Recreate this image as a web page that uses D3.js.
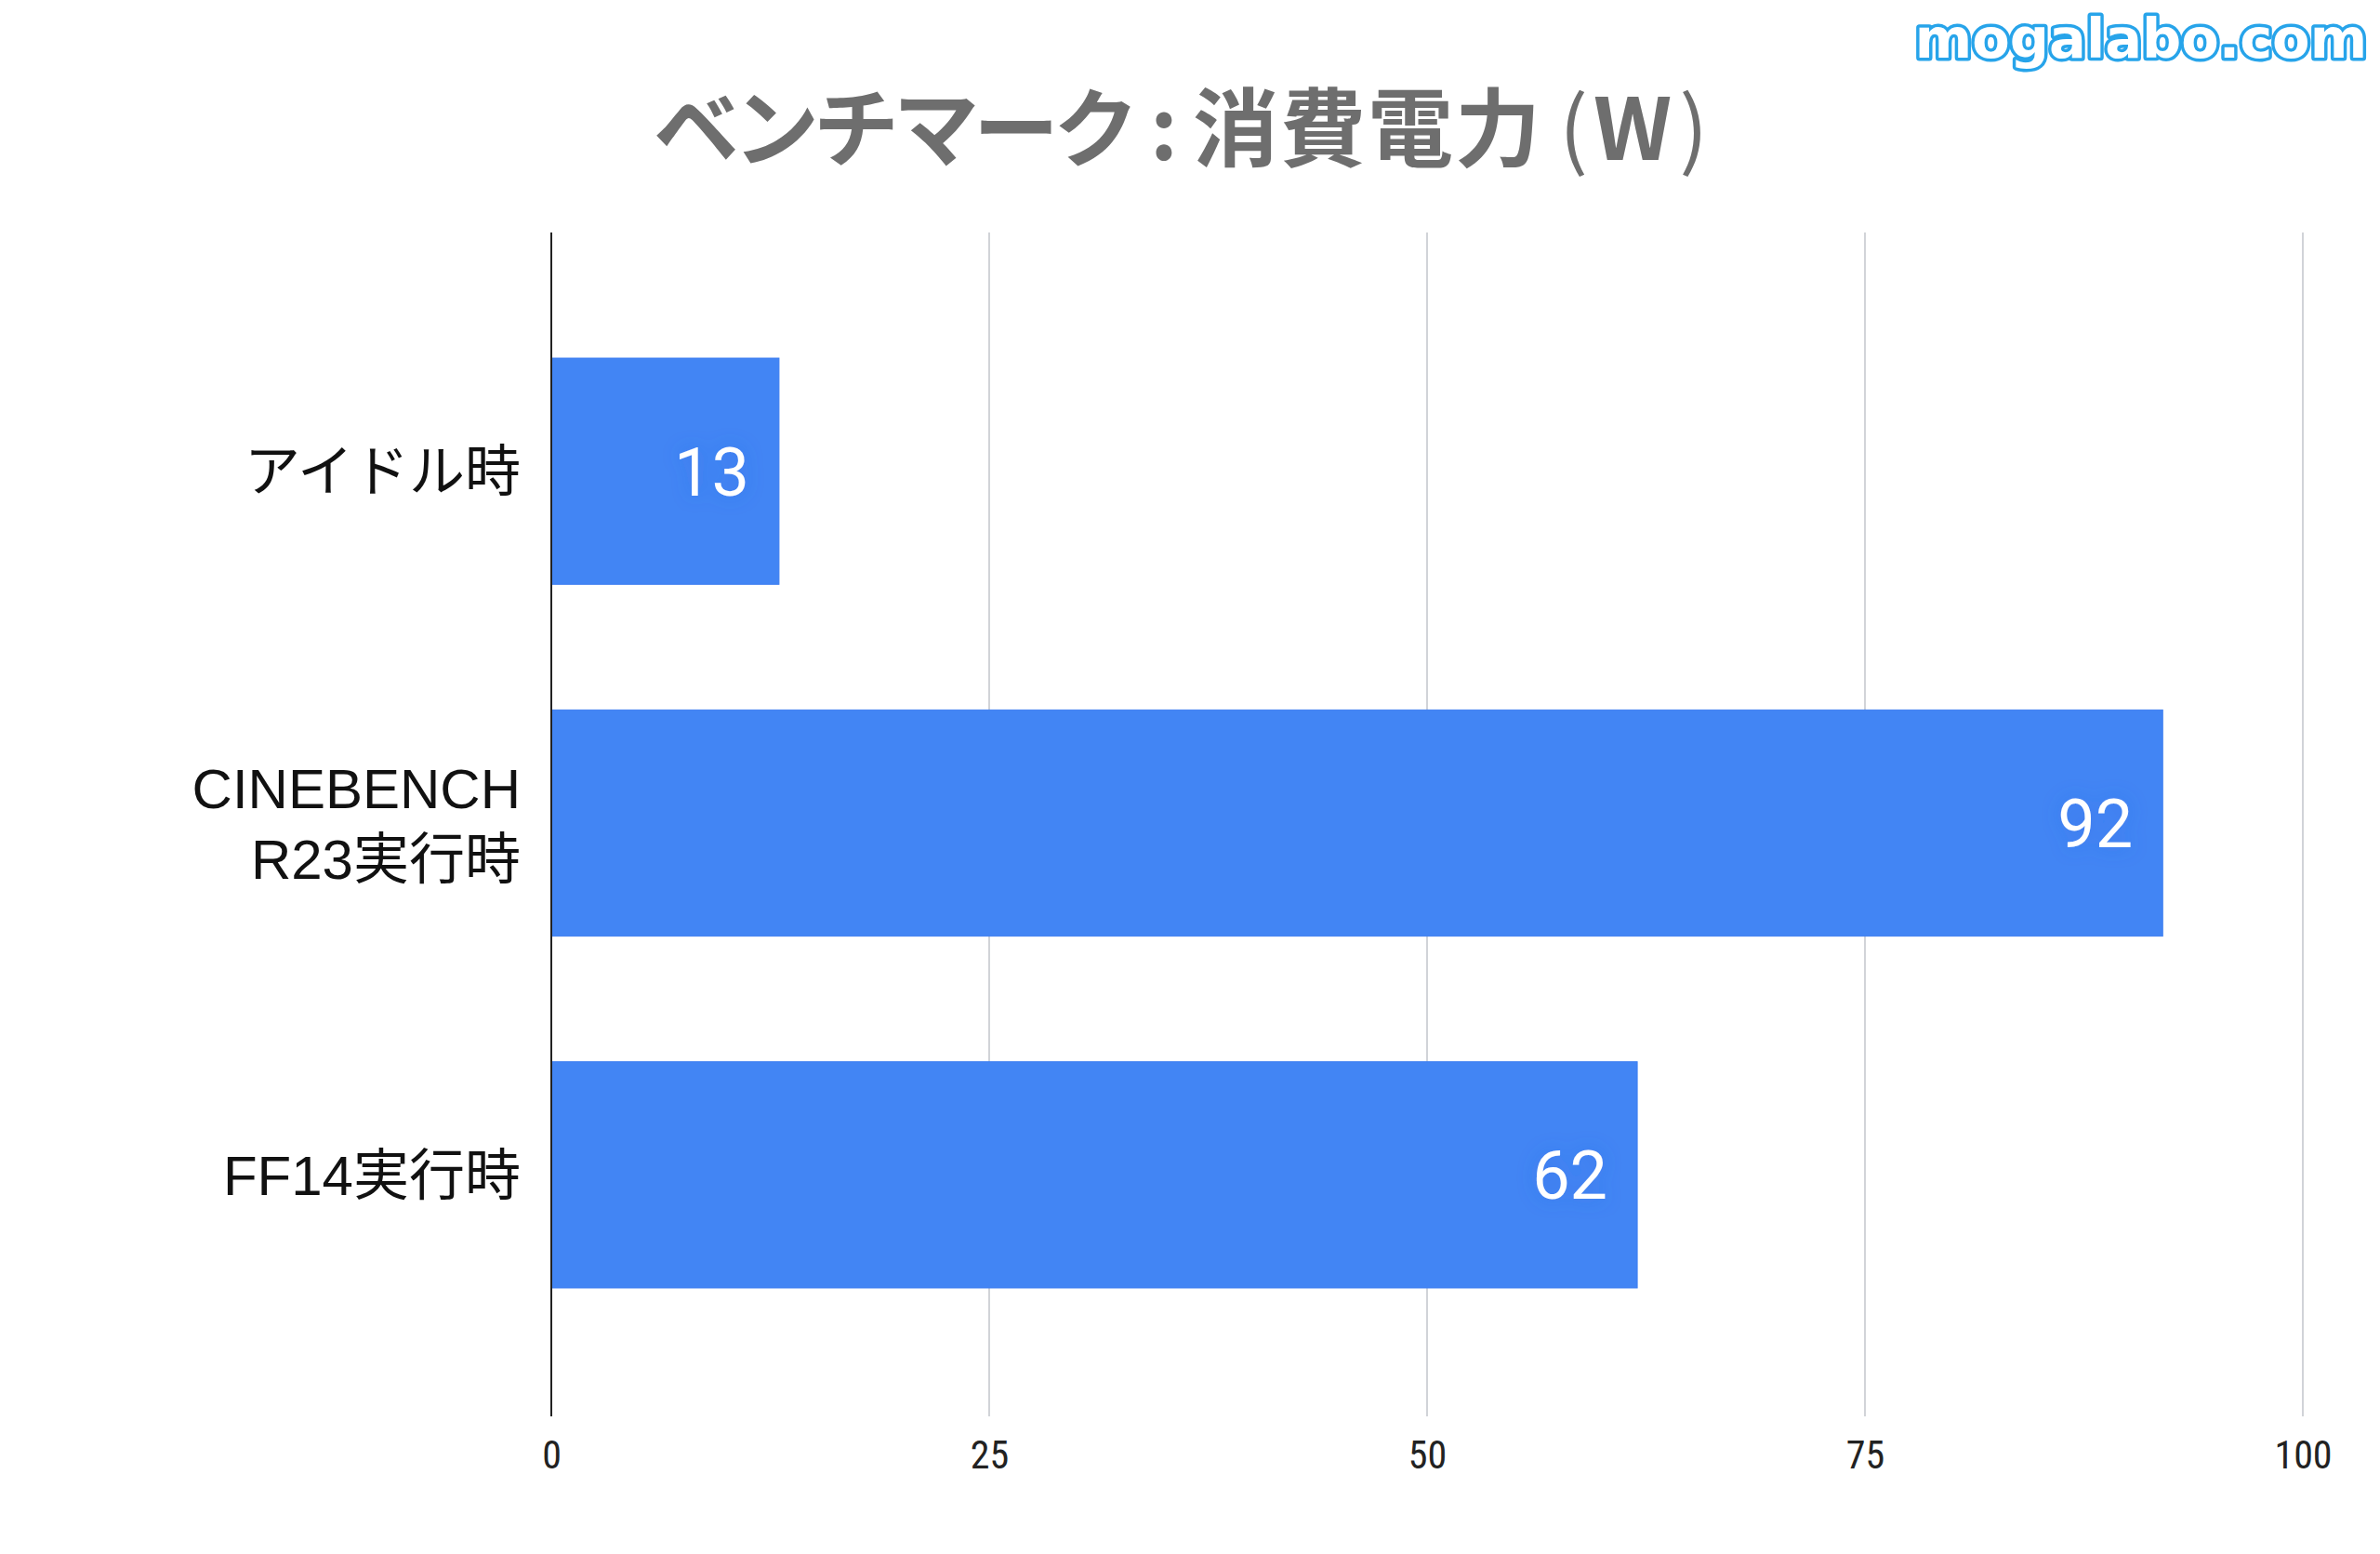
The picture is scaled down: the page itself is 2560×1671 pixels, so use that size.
<!DOCTYPE html>
<html><head><meta charset="utf-8">
<script src="https://cdn.jsdelivr.net/npm/d3@7"></script>
<style>
html,body{margin:0;padding:0;background:#fff;}
svg{display:block;}
</style></head>
<body>
<script>
const titleParts = ["ベンチマーク", ":", "消費電力", "(", "W", ")"];
const watermark = "mogalabo.com";
const categories = ["アイドル時", "CINEBENCH\nR23実行時", "FF14実行時"];
const values = [13, 92, 62];
const xTicks = [0, 25, 50, 75, 100];

const W = 2560, H = 1671;
const svg = d3.select("body").append("svg").attr("width", W).attr("height", H);
svg.append("rect").attr("width", W).attr("height", H).attr("fill", "#fff");

const defs = svg.append("defs");
const f = defs.append("filter").attr("id","halo").attr("x","-30%").attr("y","-30%").attr("width","160%").attr("height","160%");
f.append("feGaussianBlur").attr("in","SourceAlpha").attr("stdDeviation",10).attr("result","b");
f.append("feFlood").attr("flood-color","#2f62d8").attr("flood-opacity",0.35);
f.append("feComposite").attr("in2","b").attr("operator","in").attr("result","s");
const m = f.append("feMerge"); m.append("feMergeNode").attr("in","s"); m.append("feMergeNode").attr("in","SourceGraphic");

const x = d3.scaleLinear().domain([0, 100]).range([593, 2477]);
const y = d3.scaleBand().domain(categories).range([250, 1520]).paddingInner(0.357).paddingOuter(0.357);

// grid
const grid = svg.append("g");
grid.selectAll("line").data(xTicks.filter(d => d !== 0)).join("line")
  .attr("x1", d => x(d)).attr("x2", d => x(d))
  .attr("y1", 250).attr("y2", 1523)
  .attr("stroke", "#c6c9cf").attr("stroke-width", 1.6);

// x axis tick labels
const xAxis = d3.axisBottom(x).tickValues(xTicks).tickSize(0).tickPadding(0);
const gx = svg.append("g").attr("transform", "translate(0,1579)").call(xAxis);
gx.select(".domain").remove();
gx.selectAll("text").attr("font-family", "'Liberation Sans Narrow','Roboto Condensed','Liberation Sans',sans-serif")
  .attr("font-size", 42).attr("fill", "#222").attr("dy", 0);

// bars
svg.append("g").selectAll("rect").data(values).join("rect")
  .attr("x", x(0)).attr("y", (d, i) => y(categories[i]))
  .attr("width", d => x(d) - x(0)).attr("height", y.bandwidth())
  .attr("fill", "#4285f4").attr("stroke", "#3f7ff0").attr("stroke-width", 1);

// zero axis line
svg.append("line").attr("x1", x(0)).attr("x2", x(0)).attr("y1", 250).attr("y2", 1523)
  .attr("stroke", "#222").attr("stroke-width", 2);

// value labels
svg.append("g").selectAll("text").data(values).join("text")
  .attr("x", d => x(d) - 32).attr("y", (d, i) => y(categories[i]) + y.bandwidth() / 2)
  .attr("dy", "0.36em").attr("text-anchor", "end")
  .attr("font-family", "Roboto, 'Noto Sans', sans-serif").attr("font-size", 72)
  .attr("fill", "#fff").attr("filter","url(#halo)").text(d => d);

// category labels
const lab = svg.append("g").selectAll("text").data(categories).join("text")
  .attr("text-anchor", "end")
  .attr("font-family", "'Liberation Sans','Noto Sans CJK JP',sans-serif")
  .attr("font-size", 60).attr("fill", "#111")
  .attr("transform", d => `translate(560,${y(d) + y.bandwidth() / 2})`);
lab.each(function(d) {
  const lines = d.split("\n");
  const lh = 76;
  const t = d3.select(this);
  lines.forEach((ln, j) => {
    t.append("tspan").attr("x", 0).attr("y", (j - (lines.length - 1) / 2) * lh).attr("dy", "0.36em").text(ln);
  });
});

// title
const title = svg.append("text").attr("x", 703).attr("y", 172)
  .attr("font-family", "'Noto Sans CJK JP',sans-serif").attr("font-weight", "bold")
  .attr("font-size", 92).attr("fill", "#6e6e6e");
const titleDx = [0, 18, 16, 18, 6, 8];
const titleWeight = ["bold", "bold", "bold", "normal", "bold", "normal"];
const titleSpacing = [-6, 0, 2, 0, 0, 0];
titleParts.forEach((p, i) => {
  title.append("tspan").attr("dx", titleDx[i]).attr("font-weight", titleWeight[i])
    .attr("letter-spacing", titleSpacing[i]).text(p);
});

// watermark
svg.append("text").attr("x", 2303).attr("y", 62).attr("text-anchor", "middle")
  .attr("font-family", "'DejaVu Sans',sans-serif").attr("font-weight", "bold")
  .attr("font-size", 59).attr("fill", "#fff").attr("stroke", "#27a4ea").attr("stroke-width", 7)
  .attr("paint-order", "stroke").attr("stroke-linejoin", "round").text(watermark);
</script>
</body></html>
